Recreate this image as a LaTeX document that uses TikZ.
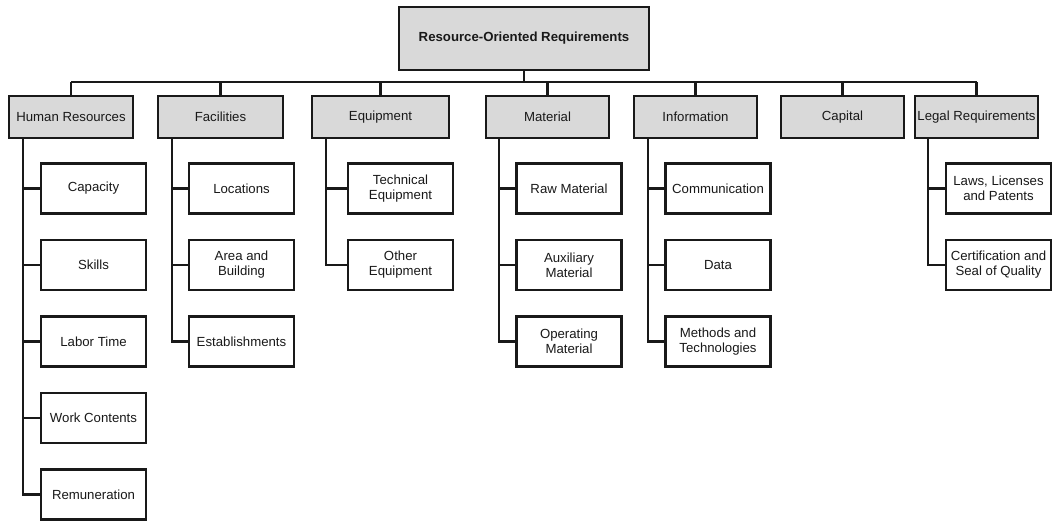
\documentclass[tikz,border=0pt]{standalone}
\usepackage{fontspec}
\setmainfont{Liberation Sans}
\definecolor{boxgray}{RGB}{217,217,217}
\definecolor{ink}{RGB}{25,25,25}
\begin{document}
\begin{tikzpicture}[x=1pt,y=-1pt,
  every node/.style={font=\fontsize{13.2}{15}\selectfont, text=ink},
  rootbox/.style={draw=ink, line width=2.2pt, fill=boxgray, minimum width=250pt, minimum height=63pt, inner sep=0pt, font=\fontsize{13.2}{15}\selectfont\bfseries},
  catbox/.style={draw=ink, line width=2.2pt, fill=boxgray, minimum width=123pt, minimum height=42pt, inner sep=0pt},
  subbox/.style={draw=ink, line width=2.2pt, fill=white, minimum width=105pt, minimum height=50pt, inner sep=0pt, align=center},
  link/.style={draw=ink, line width=2.2pt}
]
\useasboundingbox (0,0) rectangle (1054,522);

\node[rootbox] (root) at (524,38.5) {Resource-Oriented Requirements};

\node[catbox, minimum width=124pt] (hr) at (71,117) {Human Resources};
\node[catbox, minimum width=125pt] (fac) at (220.5,117) {Facilities};
\node[catbox, minimum width=137pt] (equ) at (380.5,117) {Equipment};
\node[catbox] (mat) at (547.5,117) {Material};
\node[catbox] (inf) at (695.5,117) {Information};
\node[catbox] (cap) at (842.5,117) {Capital};
\node[catbox] (leg) at (976.5,117) {Legal Requirements};

\coordinate (bar) at (0,82);
\draw[link] (root.south) -- (root.south |- bar);
\draw[link] (hr.north |- bar) -- (leg.north |- bar);
\foreach \n in {hr,fac,equ,mat,inf,cap,leg} {
  \draw[link] (\n.north |- bar) -- (\n.north);
}

% Human resources
\coordinate (hrv) at (23,0);
\node[subbox] (hr1) at (93.5,188.5) {Capacity};
\node[subbox] (hr2) at (93.5,265) {Skills};
\node[subbox] (hr3) at (93.5,341.5) {Labor Time};
\node[subbox] (hr4) at (93.5,418) {Work Contents};
\node[subbox] (hr5) at (93.5,494.5) {Remuneration};
\foreach \c in {hr1,hr2,hr3,hr4,hr5} {\draw[link] (hr.south -| hrv) |- (\c.west);}

% Facilities
\coordinate (facv) at (172,0);
\node[subbox] (fac1) at (241.5,188.5) {Locations};
\node[subbox] (fac2) at (241.5,265) {Area and\\Building};
\node[subbox] (fac3) at (241.5,341.5) {Establishments};
\foreach \c in {fac1,fac2,fac3} {\draw[link] (fac.south -| facv) |- (\c.west);}

% Equipment
\coordinate (equv) at (326,0);
\node[subbox] (equ1) at (400.5,188.5) {Technical\\Equipment};
\node[subbox] (equ2) at (400.5,265) {Other\\Equipment};
\foreach \c in {equ1,equ2} {\draw[link] (equ.south -| equv) |- (\c.west);}

% Material
\coordinate (matv) at (499,0);
\node[subbox] (mat1) at (569,188.5) {Raw Material};
\node[subbox] (mat2) at (569,265) {Auxiliary\\Material};
\node[subbox] (mat3) at (569,341.5) {Operating\\Material};
\foreach \c in {mat1,mat2,mat3} {\draw[link] (mat.south -| matv) |- (\c.west);}

% Information
\coordinate (infv) at (648,0);
\node[subbox] (inf1) at (718,188.5) {Communication};
\node[subbox] (inf2) at (718,265) {Data};
\node[subbox] (inf3) at (718,341.5) {Methods and\\Technologies};
\foreach \c in {inf1,inf2,inf3} {\draw[link] (inf.south -| infv) |- (\c.west);}

% Legal
\coordinate (legv) at (928,0);
\node[subbox] (leg1) at (998.5,188.5) {Laws, Licenses\\and Patents};
\node[subbox] (leg2) at (998.5,265) {Certification and\\Seal of Quality};
\foreach \c in {leg1,leg2} {\draw[link] (leg.south -| legv) |- (\c.west);}
\end{tikzpicture}
\end{document}
